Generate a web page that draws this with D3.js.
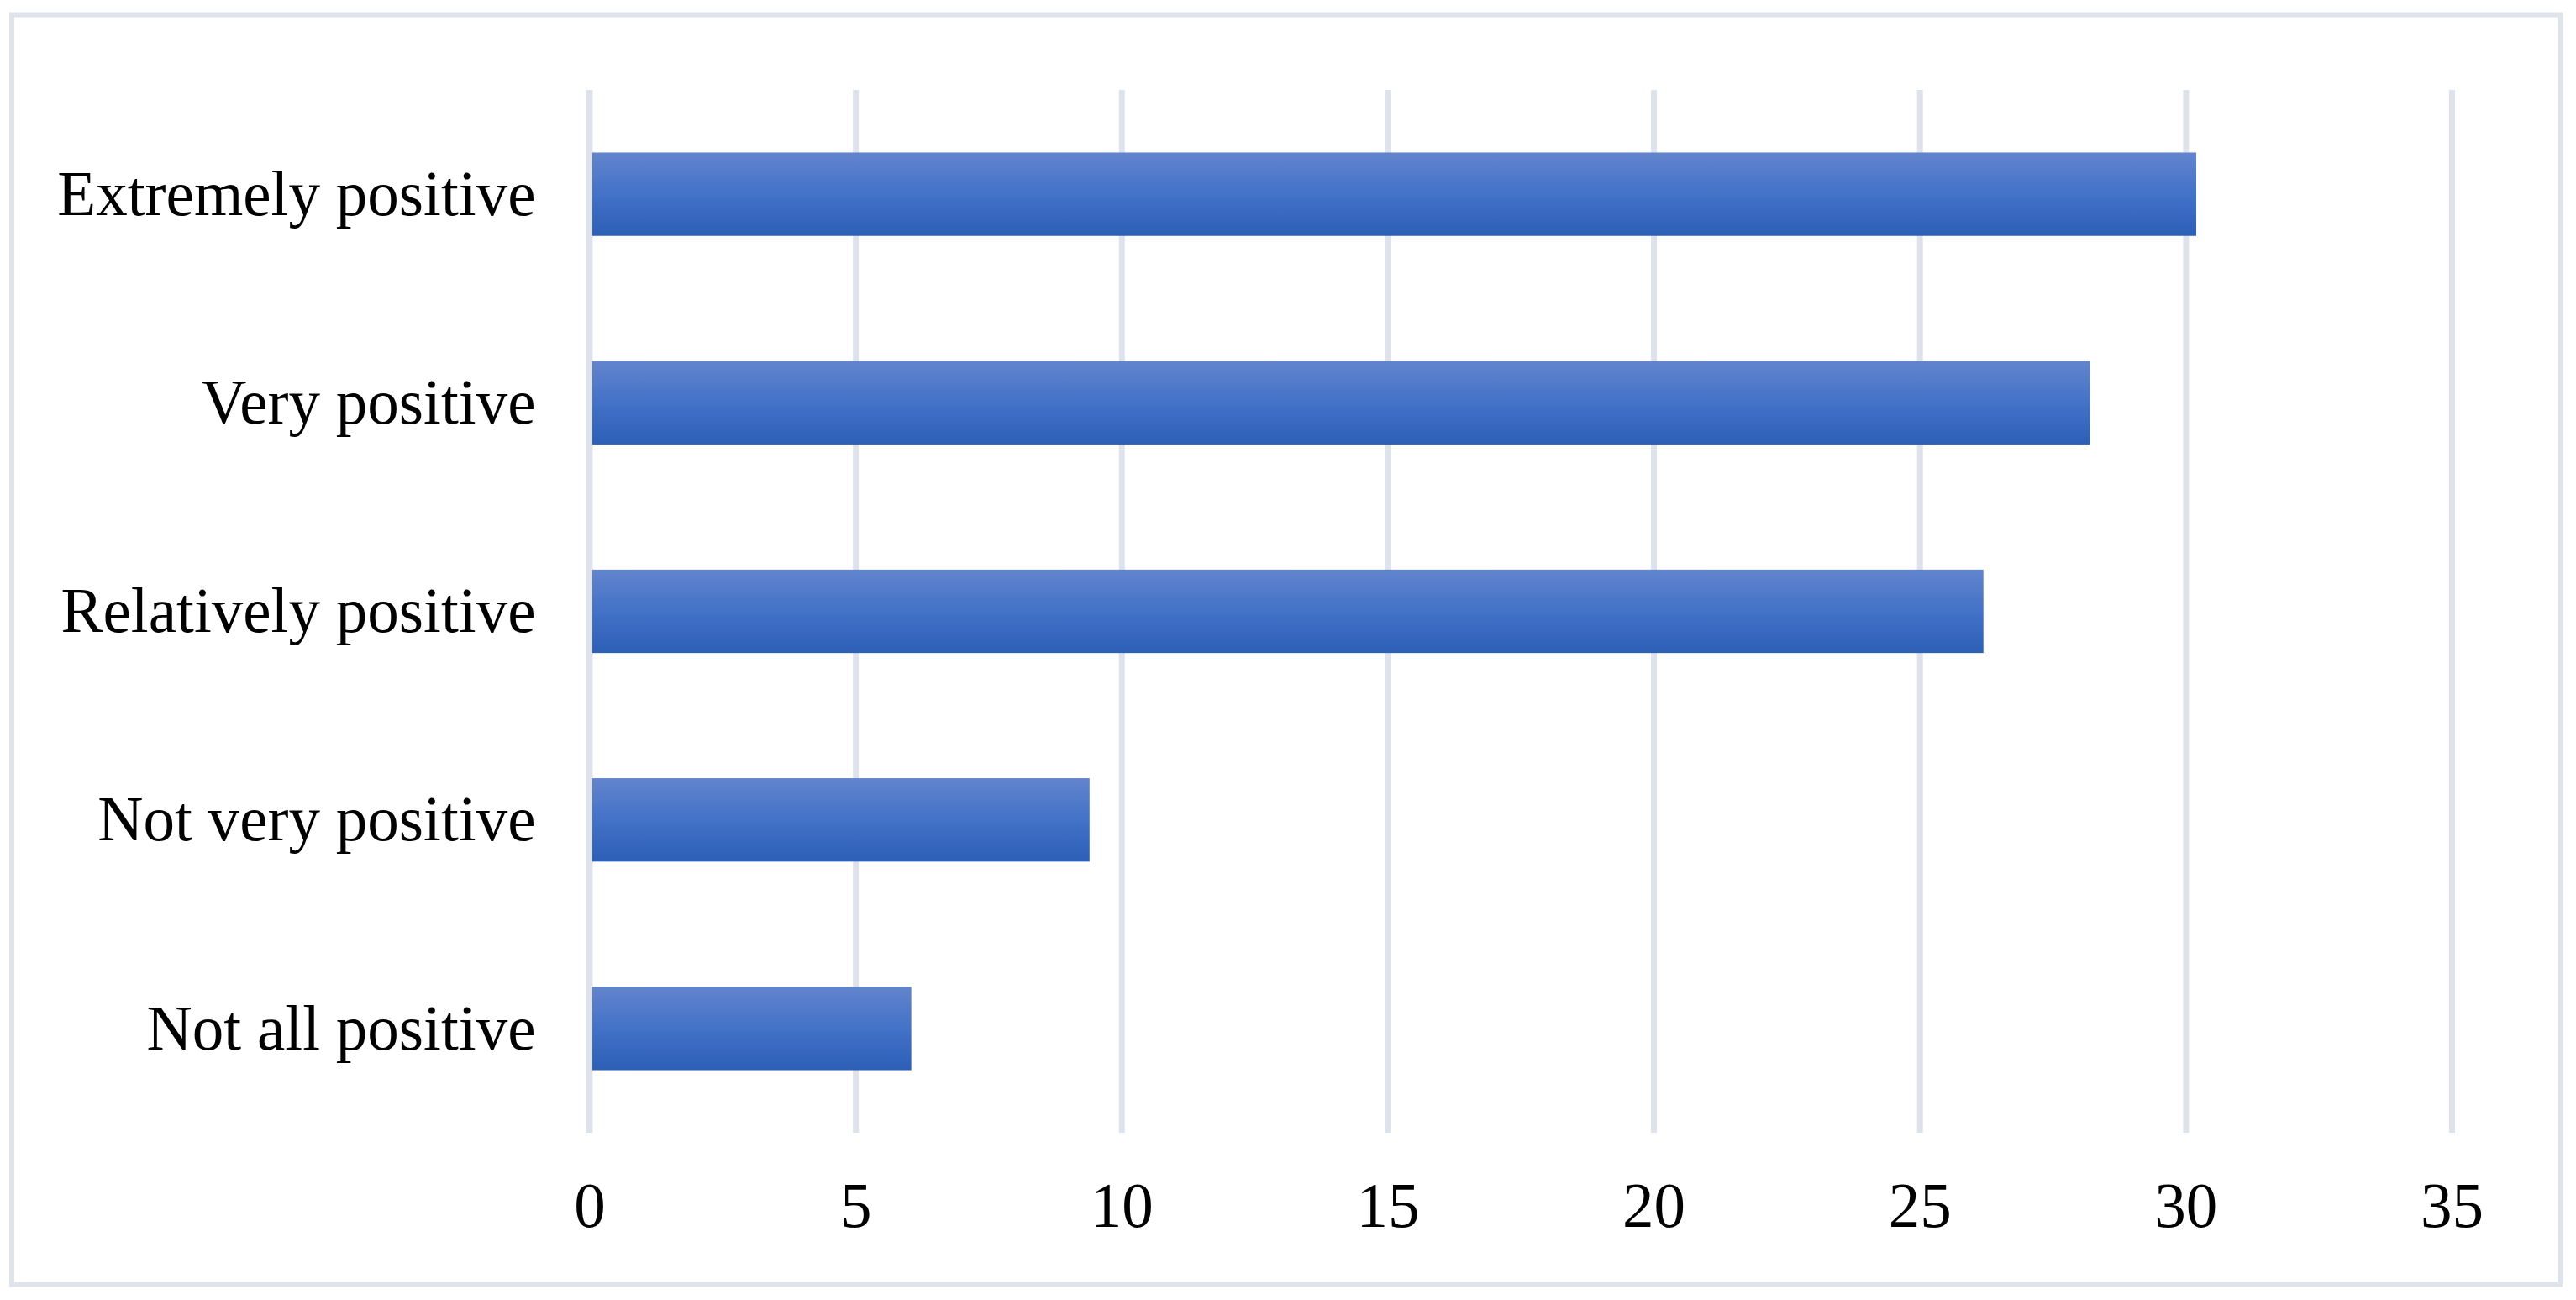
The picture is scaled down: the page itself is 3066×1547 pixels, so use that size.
<!DOCTYPE html>
<html>
<head>
<meta charset="utf-8">
<script src="https://cdn.jsdelivr.net/npm/d3@7"></script>
<style>
  html, body { margin: 0; padding: 0; background: #fff; }
  svg text { font-family: "Liberation Serif", "Times New Roman", serif; fill: #000; }
</style>
</head>
<body>
<div id="chart"></div>
<script>
// data
const categories = ["Extremely positive", "Very positive", "Relatively positive", "Not very positive", "Not all positive"];
const values = [30.2, 28.2, 26.2, 9.4, 6.05];
const xTicks = [0, 5, 10, 15, 20, 25, 30, 35];

const W = 3066, H = 1547;
const margin = { top: 107, left: 701.5, right: 148, bottom: 199 };
const width = W - margin.left - margin.right,
  height = H - margin.top - margin.bottom;

const svg = d3.select("#chart")
  .append("svg")
  .attr("width", W)
  .attr("height", H);

// gradient for the bars
const grad = svg.append("defs").append("linearGradient")
  .attr("id", "barFill")
  .attr("x1", 0).attr("y1", 0).attr("x2", 0).attr("y2", 1);
grad.append("stop").attr("offset", "0%").attr("stop-color", "#6284cd");
grad.append("stop").attr("offset", "50%").attr("stop-color", "#4372c8");
grad.append("stop").attr("offset", "100%").attr("stop-color", "#2c5fb6");

// outer frame
svg.append("rect")
  .attr("x", 14).attr("y", 17.5)
  .attr("width", 3033).attr("height", 1511)
  .attr("fill", "none")
  .attr("stroke", "#dfe3ea")
  .attr("stroke-width", 6);

const g = svg.append("g")
  .attr("transform", "translate(" + margin.left + "," + margin.top + ")");

const xScale = d3.scaleLinear().domain([0, 35]).range([0, width]);
const yScale = d3.scaleBand().domain(categories).range([0, height])
  .paddingInner(0.6).paddingOuter(0.3);

// squeeze text a little, the original font is narrower
function narrow(sel) {
  sel.each(function() {
    const len = this.getComputedTextLength();
    d3.select(this)
      .attr("textLength", len * 0.975)
      .attr("lengthAdjust", "spacingAndGlyphs");
  });
}

// vertical grid lines + tick labels
const xAxis = g.append("g")
  .attr("transform", "translate(0," + height + ")")
  .call(d3.axisBottom(xScale).tickValues(xTicks).tickSize(-height).tickPadding(57));
xAxis.select(".domain").remove();
xAxis.selectAll(".tick line")
  .attr("stroke", "#dee3eb")
  .attr("stroke-width", 7);
xAxis.selectAll(".tick text")
  .style("font-size", "77px")
  .call(narrow);

// bars
g.selectAll(".bar")
  .data(values)
  .join("rect")
  .attr("class", "bar")
  .attr("x", xScale(0))
  .attr("y", (d, i) => yScale(categories[i]))
  .attr("width", d => xScale(d) - xScale(0))
  .attr("height", yScale.bandwidth())
  .attr("fill", "url(#barFill)");

// zero line sits on top of the bars
g.append("line")
  .attr("x1", xScale(0)).attr("x2", xScale(0))
  .attr("y1", 0).attr("y2", height)
  .attr("stroke", "#dee3eb")
  .attr("stroke-width", 7);

// category labels
const yAxis = g.append("g")
  .call(d3.axisLeft(yScale).tickSize(0).tickPadding(64));
yAxis.select(".domain").remove();
yAxis.selectAll(".tick text")
  .style("font-size", "77px")
  .call(narrow);
</script>
</body>
</html>
